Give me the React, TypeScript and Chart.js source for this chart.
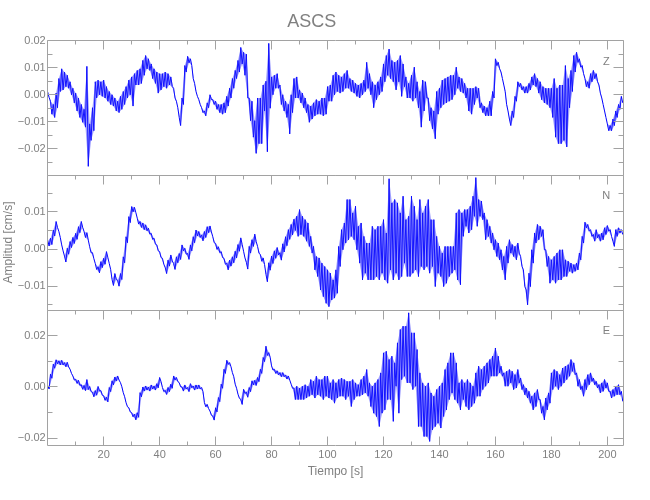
import React, { useEffect, useRef } from 'react';
import { Chart, registerables } from 'chart.js';

Chart.register(...registerables);

// ---------- text ----------
const TITLE = 'ASCS';
const X_TITLE = 'Tiempo [s]';
const Y_TITLE = 'Amplitud [cm/s]';
const COMPONENTS = ['Z', 'N', 'E'];

// ---------- time axis ----------
const T_START = 0;
const T_STEP = 1; // one sample pair (upper / lower) per second
const X_MIN = 0;
const X_MAX = 205.7;
const X_TICKS = [10, 20, 30, 40, 50, 60, 70, 80, 90, 100, 110, 120, 130, 140, 150, 160, 170, 180, 190, 200];
const X_LABELS = [20, 40, 60, 80, 100, 120, 140, 160, 180, 200];

// ---------- amplitude axes (cm/s) ----------
const Z_RANGE = [-0.0297, 0.02];
const N_RANGE = [-0.0164, 0.0199];
const E_RANGE = [-0.0226, 0.03];
const Z_TICKS = [-0.025, -0.02, -0.015, -0.01, -0.005, 0, 0.005, 0.01, 0.015, 0.02];
const Z_LABELS = [-0.02, -0.01, 0, 0.01, 0.02];
const N_TICKS = [-0.015, -0.01, -0.005, 0, 0.005, 0.01, 0.015];
const N_LABELS = [-0.01, 0, 0.01];
const E_TICKS = [-0.02, -0.01, 0, 0.01, 0.02];
const E_LABELS = [-0.02, 0, 0.02];

// ---------- traces: upper and lower envelope per second, in 0.001 cm/s ----------
const UNIT = 0.001;

const Z_HI = [
  1, -2.4, -3.6, 0.6, 6, 9.6, 8.4, 7.2, 4.8, 2.4,
  0.6, -1.2, -3.6, -5.4, 10.5, -10.8, -4.8, 4.8, 5.4, 4.8,
  5.4, 3, 1.2, 0, -1.2, -2.4, -0.6, 1.2, 3, 5.4,
  6.6, 7.8, 9, 9.6, 12.7, 14.5, 13.3, 11.4, 9.6, 8.4,
  7.8, 7.8, 8.4, 7.8, 6.6, 2.4, -2.4, -8.4, -1.2, 10.8,
  14.2, 13.3, 6, 1.2, -1.8, -4.8, -6, -3, 0, -1.8,
  -2.4, -3.6, -3.6, -3, -0.6, 2.4, 6, 9, 12.7, 17.5,
  15.7, 15, -1.2, -2.4, -9.6, -1.2, -1.2, 3.6, 5, 19,
  6.6, 7.2, 7.8, 3.6, 0, -2.4, -3.6, 0, 6, 6.6,
  1.8, 0.6, -1.2, -3.6, -4.2, -3, -1.8, -2.4, -1.2, -1.2,
  3, 3.6, 7.2, 8.4, 7.2, 6.6, 7.8, 9, 6, 5.4,
  4.2, 3.6, 4.2, 5.4, 12, 7.8, 4.8, 3.6, 4.8, 6.6,
  11.4, 14.5, 16.9, 12.7, 12, 12.7, 14.5, 11.4, 6.6, 4.2,
  7.2, 10.2, 4.8, 1.2, 5.4, 4.8, -1.2, -4.8, -6, 1.2,
  2.4, 5.4, 6, 6.6, 7.2, 7.2, 10.2, 6.6, 6, 4.2,
  2.4, 2.4, 2.4, 3, 2.4, -3, -4.2, -4.8, -2.4, 1.2,
  13.3, 12, 8.4, 3.6, -3.6, -9, -6, -0.6, 4.8, 4.2,
  3, 3, 4.2, 6.6, 7.8, 6, 4.8, 3, 2.4, 2.4,
  2.4, 6, 2.4, 3.6, 3.6, 10.8, 6, 9, 14.5, 15.7,
  13.3, 10.8, 6, 4.8, 7.8, 9, 7.8, 3.6, -1.2, -6,
  -10.8, -11.4, -9, -6, -3.6, -0.6,
];
const Z_LO = [
  -1, -7.2, -8.4, -4.8, 1.2, 1.8, 3, 2.4, 0, -3,
  -6, -8.4, -10.2, -12, -26.5, -16.9, -13.3, -1.2, 0, -0.6,
  -1.2, -2.4, -3.6, -4.2, -6, -6.6, -5.4, -3.6, -1.2, 0,
  -4.2, 3.6, 3.6, 4.2, 7.2, 9.6, 9, 6, 4.2, 0.6,
  1.8, 3, 2.4, 3.6, 3, -1.2, -4.8, -11.4, -3.6, 8.4,
  11.8, 10.8, 4.2, -0.6, -3.6, -6.6, -7.8, -4.8, -1.8, -3.6,
  -5.4, -6.6, -7.2, -6.6, -4.2, -1.2, 2.4, 6, 8.4, 11.4,
  7.2, -1.2, -9.6, -15.7, -21.7, -18.1, -18.1, -6, -21.1, -5,
  0, 2.4, 2.4, -3.6, -6, -8.4, -14.5, -6.6, -1.2, -1.2,
  -3, -4.8, -6.6, -10.2, -9, -7.8, -7.2, -7.2, -7.8, -7.2,
  -2.4, -2.4, 0, 1.2, 0.6, 1.2, 2.4, 2.4, 1.2, 0.6,
  -0.6, -1.2, 0, 1.2, 2.4, 0, -4.8, -1.8, 0, 1.2,
  4.8, 7.2, 6, 4.8, 1.8, 4.8, -0.6, 3, -1.2, -1.2,
  -2.4, -1.2, -4.8, -12, -6, -1.2, -9.6, -12.6, -16.3, -7.2,
  -4.8, -3.6, -3, -2.4, -1.8, 0, 2.4, 1.2, 0.6, -1.2,
  -6, -7.2, -3.6, -1.2, -4.8, -6.6, -7.8, -7.8, -7.8, -1.2,
  10.8, 9.6, 6, 1.2, -6, -11.4, -8.4, -2.4, 3, 1.8,
  0.6, 0.6, 1.8, 3.6, 3, 0.6, -1.8, -3, -3.6, -4.8,
  -8.4, -15.7, -18.1, -18.1, -16.9, -19.3, -4.8, 1.2, 8.4, 12,
  10.2, 7.8, 3, 2.4, 4.8, 6, 4.8, 0.6, -3.6, -8.4,
  -13.3, -13.3, -11.4, -8.4, -5.4, -3,
];

const N_HI = [
  2.4, 2.9, 5.1, 7.4, 4.7, 1.1, -1.9, 0.2, 2.0, 3.1,
  4.2, 6.0, 7.4, 4.7, 4.4, 0.6, -1.0, -3.9, -4.8, -3.4,
  -2.5, -0.7, -3.9, -8.2, -6.6, -8.4, -6.6, -2.1, 3.3, 8.7,
  11.4, 11.2, 8.3, 7.4, 7.0, 6.5, 5.6, 4.2, 2.9, 1.1,
  -0.7, -2.5, -5.0, -3.0, -1.6, -3.9, -2.1, -1.2, 1.1, 0.2,
  -1.2, 1.1, 3.3, 5.1, 4.7, 3.8, 4.7, 6.0, 6.2, 3.3,
  1.5, 0.6, -0.7, -2.5, -3.8, -3.0, -2.1, -0.6, 1.2, 3.0,
  -0.6, -3.6, 0.7, 2.5, 4.0, 0.7, -1.5, -2.4, -6.8, -3.7,
  -1.9, -0.5, 0.4, -1.0, 1.4, 3.3, 5.2, 6.6, 8.0, 8.8,
  10.6, 8.8, 7.9, 7.0, 3.4, 0.7, -2.0, -2.4, -3.8, -4.7,
  -5.6, -6.5, -8.3, -5.6, 0.7, 5.2, 7.0, 13.3, 13.3, 9.7,
  11.5, 6.1, 7.0, 3.4, 1.6, 1.6, 6.1, 5.2, 6.1, 6.1,
  7.9, 4.3, 18.9, 12.4, 13.3, 12.4, 9.7, 14.2, 7.9, 8.8,
  14.2, 11.5, 7.9, 13.3, 9.7, 11.5, 13.3, 7.9, 7.9, 3.4,
  0.7, -1.1, 0.7, 0.7, 0.7, 0.7, 9.7, 10.6, 9.7, 10.6,
  10.6, 11.5, 14.2, 19.2, 13.3, 12.9, 9.7, 7.9, 6.1, 4.3,
  2.5, 1.6, -0.2, -2.0, 0.7, 2.5, 1.2, 0.7, 1.6, -2.0,
  -5.6, -11.0, -6.5, -0.2, 4.3, 6.6, 6.1, 5.2, -0.2, -2.0,
  -2.9, -2.0, -1.1, -0.2, -0.2, -2.9, -3.3, -3.8, -4.2, -3.8,
  -1.1, 3.4, 7.2, 6.6, 5.2, 3.9, 5.2, 3.9, 4.3, 5.7,
  6.3, 5.2, 2.1, 5.2, 5.7, 5.2,
];
const N_LO = [
  0.8, 1.2, 3.5, 5.8, 3.1, -0.5, -3.5, -1.4, 0.4, 1.5,
  2.6, 4.4, 5.8, 3.1, 2.4, -1.0, -2.6, -5.5, -6.4, -5.0,
  -4.1, -2.3, -5.5, -9.8, -8.2, -10.0, -8.2, -3.7, 1.7, 7.1,
  10.0, 9.8, 6.7, 5.8, 5.2, 4.9, 4.0, 2.6, 1.3, -0.5,
  -2.3, -4.1, -6.6, -4.6, -3.2, -5.5, -3.7, -2.8, -0.5, -1.4,
  -2.8, -0.5, 1.7, 3.5, 3.1, 2.2, 3.1, 4.4, 4.6, 1.7,
  -0.1, -1.0, -2.3, -4.1, -5.6, -4.6, -3.7, -2.4, -0.6, 1.2,
  -2.4, -5.4, -1.1, 0.7, 2.0, -1.1, -3.3, -4.2, -8.8, -5.7,
  -3.9, -2.5, -1.6, -3.0, -0.8, 0.9, 2.6, 3.8, 5.0, 3.4,
  3.9, 3.4, 2.1, 0.7, -1.1, -5.6, -7.4, -11.0, -12.8, -14.6,
  -15.5, -13.7, -13.2, -11.9, -4.7, -0.2, 1.6, 2.5, 3.4, 2.5,
  -0.2, -3.8, -8.3, -6.5, -8.3, -8.3, -8.3, -7.4, -8.3, -6.5,
  -8.3, -9.2, -5.6, -8.3, -6.5, -8.3, -7.4, -3.8, -7.4, -7.4,
  -6.5, -5.6, -7.4, -4.7, -5.6, -4.7, -6.5, -4.7, -10.1, -6.5,
  -7.4, -10.1, -9.2, -7.4, -6.5, -5.6, -8.3, -9.6, 3.4, 6.1,
  4.3, 5.2, 8.8, 6.1, 8.8, 7.9, 2.5, 3.4, 1.6, -0.2,
  -2.0, -2.9, -5.6, -8.3, -3.8, -1.1, -2.0, -2.9, -1.1, -4.7,
  -10.1, -15.0, -10.1, -3.8, 1.6, 2.5, 3.4, -0.2, -4.7, -9.2,
  -8.3, -9.2, -8.3, -8.3, -7.4, -7.4, -6.0, -6.5, -6.0, -5.6,
  -2.9, 1.6, 5.7, 4.8, 3.4, 2.1, 3.0, 2.1, 2.5, 3.9,
  4.8, 3.4, 0.7, 3.4, 4.3, 3.9,
];

const E_HI = [
  0.6, 5.0, 8.9, 10.6, 10.2, 10.4, 9.5, 9.6, 6.9, 4.3,
  3.0, 2.6, 0.9, 0.6, 2.9, 0.2, -2.0, -1.4, 0.2, -1.4,
  -3.4, -4.0, -0.2, 2.4, 3.9, 4.3, 1.7, -2.2, -6.1, -8.1,
  -10.0, -10.6, -10.0, -2.2, 0.0, 0.4, 0.0, 0.8, 0.4, 1.3,
  3.7, -0.2, -1.3, -0.2, 1.1, 4.3, 3.7, 1.7, 0.0, 0.8,
  -0.2, 1.3, 0.4, 0.8, 0.8, -0.2, -6.1, -6.8, -9.4, -11.3,
  -8.1, -4.1, 1.1, 6.9, 10.4, 9.5, 5.6, 1.1, -2.8, -4.8,
  -0.9, -2.0, -0.2, 2.4, 2.6, 3.7, 6.9, 11.5, 15.9, 13.4,
  8.2, 6.9, 6.3, 5.6, 5.6, 4.7, 4.3, 1.1, -0.4, 0.3,
  -0.4, 0.3, 0.9, 0.3, 2.9, 2.2, 4.2, 2.9, 2.9, 4.2,
  4.2, 1.6, 2.9, 1.6, 2.9, 3.5, 2.9, 2.2, 2.2, 2.9,
  1.6, 0.9, 2.9, 4.2, 6.8, 1.6, 0.3, 1.6, 2.9, 5.5,
  13.3, 13.9, 10.7, 12.0, 9.4, 17.2, 22.4, 23.7, 23.7, 28.9,
  21.1, 21.1, 14.6, 5.5, 1.6, 0.3, 1.6, -2.3, -3.6, -1.0,
  0.3, 1.6, 6.8, 9.4, 13.3, 13.3, 9.4, 1.6, 2.9, 1.6,
  2.9, 1.6, 0.3, 5.5, 8.1, 6.8, 8.1, 9.4, 10.7, 12.0,
  15.2, 12.0, 8.1, 5.5, 6.1, 6.8, 6.1, 4.8, 6.8, 3.5,
  0.9, -0.4, -1.7, -3.6, -2.3, -1.0, -4.9, -7.6, -4.3, -2.3,
  5.5, 6.8, 6.1, 4.8, 7.4, 8.1, 8.7, 10.7, 9.4, 5.5,
  2.9, 0.3, 2.9, 4.8, 5.5, 3.5, 2.2, 0.9, 1.6, 2.9,
  1.6, -1.7, -1.0, 0.3, 0.9, -1.7,
];
const E_LO = [
  -0.8, 3.4, 7.3, 9.0, 8.6, 8.6, 7.9, 7.8, 5.3, 2.7,
  1.4, 0.6, -0.9, -1.4, -1.0, -1.8, -3.8, -3.2, -1.6, -3.2,
  -5.2, -5.8, -1.8, 0.8, 2.3, 2.7, 0.1, -3.8, -7.7, -9.7,
  -11.6, -12.8, -11.8, -3.8, -1.6, -1.2, -1.6, -0.8, -1.2, -0.3,
  2.1, -1.8, -2.9, -1.8, -0.5, 2.7, 2.1, 0.1, -1.6, -0.8,
  -1.8, -0.3, -1.2, -0.8, -0.8, -1.8, -7.7, -8.4, -11.0, -12.9,
  -9.7, -5.7, -0.5, 5.3, 8.8, 7.9, 4.0, -0.5, -4.4, -6.8,
  -2.5, -4.0, -1.8, 0.8, 0.6, 2.1, 5.3, 9.9, 12.3, 11.6,
  6.6, 5.3, 4.7, 4.0, 4.0, 3.1, 2.7, -0.5, -4.9, -4.9,
  -4.9, -4.9, -4.3, -3.6, -3.0, -4.3, -3.0, -3.6, -4.9, -3.6,
  -4.3, -4.9, -6.3, -4.3, -3.6, -3.6, -4.9, -3.6, -7.6, -4.9,
  -3.6, -3.6, -3.0, -2.3, -3.6, -7.6, -10.2, -11.5, -15.4, -10.2,
  -8.9, -4.9, -4.9, -13.4, 0.3, -10.2, 2.9, 4.2, 1.6, 1.6,
  -1.0, 0.3, -15.4, -15.4, -19.3, -19.3, -21.2, -16.7, -15.4, -14.1,
  -16.0, -11.5, -8.9, -4.9, -2.3, -4.9, -6.3, -8.9, -4.9, -7.6,
  -8.9, -7.6, -6.3, -3.6, -3.6, -1.0, 0.3, 1.6, 4.2, 4.2,
  4.2, 5.5, 4.2, 0.3, 0.3, 1.6, -1.0, -0.4, 1.6, -1.0,
  -3.0, -4.3, -6.3, -8.9, -7.6, -4.9, -10.2, -12.8, -8.9, -6.3,
  -1.0, 0.3, -1.0, 0.3, 1.6, 2.9, 4.2, 6.1, 4.8, 0.3,
  -1.0, -3.6, -1.0, 0.9, 2.2, 0.9, -0.4, -2.3, -1.7, -0.4,
  -1.7, -4.3, -3.6, -3.0, -3.0, -5.6,
];

// ---------- styles / layout ----------
const TRACE = '#0000ff';
const BAND = 'rgba(40, 40, 255, 0.45)';
const AXIS = '#a2a2a2';
const TEXT = '#808080';
const FONT = '"Liberation Sans", Arial, sans-serif';
const TITLE_FONT = '"Liberation Sans Narrow", "Liberation Sans", sans-serif';
const W = 650;
const H = 500;
const PLOT_LEFT = 47.7;
const PAD_RIGHT = 26.7;
const PANEL_EDGES = [40.7, 175, 310, 445];

type Panel = {
  name: string;
  hi: number[];
  lo: number[];
  range: number[];
  ticks: number[];
  labels: number[];
};

const PANELS: Panel[] = [
  { name: COMPONENTS[0], hi: Z_HI, lo: Z_LO, range: Z_RANGE, ticks: Z_TICKS, labels: Z_LABELS },
  { name: COMPONENTS[1], hi: N_HI, lo: N_LO, range: N_RANGE, ticks: N_TICKS, labels: N_LABELS },
  { name: COMPONENTS[2], hi: E_HI, lo: E_LO, range: E_RANGE, ticks: E_TICKS, labels: E_LABELS },
];

// trace: alternate between the upper and lower envelope value of each second
function buildTrace(hi: number[], lo: number[]) {
  const pts: { x: number; y: number }[] = [];
  hi.forEach((h, i) => {
    const t = T_START + i * T_STEP;
    pts.push({ x: t, y: h * UNIT });
    pts.push({ x: t + T_STEP / 2, y: lo[i] * UNIT });
  });
  return pts;
}

function buildEdge(values: number[], shift: number) {
  return values.map((v, i) => ({ x: T_START + i * T_STEP + shift, y: v * UNIT }));
}

const near = (a: number, b: number) => Math.abs(a - b) < 1e-9;
const fmt = (v: number) => (v < -1e-12 ? '\u2212' : '') + Math.abs(v).toFixed(2);

function makeFramePlugin(panel: Panel, isLast: boolean) {
  return {
    id: 'frame',
    afterDraw(chart: any) {
      const { ctx, chartArea } = chart;
      const xs = chart.scales.x;
      const ys = chart.scales.y;
      const l = Math.floor(chartArea.left) + 0.5;
      const r = Math.floor(chartArea.right) + 0.5;
      const t = Math.floor(chartArea.top) + 0.5;
      const b = Math.floor(chartArea.bottom) + 0.5;
      ctx.save();
      ctx.strokeStyle = AXIS;
      ctx.lineWidth = 1;
      ctx.beginPath();
      ctx.rect(l, t, r - l, b - t);
      X_TICKS.forEach((v) => {
        const px = Math.floor(xs.getPixelForValue(v)) + 0.5;
        const len = X_LABELS.some((m) => near(m, v)) ? 9 : 4;
        ctx.moveTo(px, t);
        ctx.lineTo(px, t + len);
        if (isLast) {
          ctx.moveTo(px, b);
          ctx.lineTo(px, b - len);
        }
      });
      panel.ticks.forEach((v) => {
        const py = Math.floor(ys.getPixelForValue(v)) + 0.5;
        const len = panel.labels.some((m) => near(m, v)) ? 10 : 5;
        ctx.moveTo(l, py);
        ctx.lineTo(l + len, py);
        ctx.moveTo(r, py);
        ctx.lineTo(r - len, py);
      });
      ctx.stroke();
      ctx.fillStyle = TEXT;
      ctx.font = `11px ${FONT}`;
      ctx.textAlign = 'center';
      ctx.textBaseline = 'middle';
      ctx.fillText(panel.name, chartArea.right - 17, chartArea.top + 21);
      ctx.restore();
    },
  };
}

function makeConfig(panel: Panel, index: number): any {
  const isFirst = index === 0;
  const isLast = index === PANELS.length - 1;
  const top = isFirst ? 0 : PANEL_EDGES[index];
  const bottom = isLast ? 0 : H - PANEL_EDGES[index + 1];

  const xScale: any = isLast
    ? {
        type: 'linear',
        min: X_MIN,
        max: X_MAX,
        position: 'bottom',
        afterBuildTicks: (s: any) => {
          s.ticks = X_LABELS.map((v) => ({ value: v }));
        },
        afterFit: (s: any) => {
          s.height = H - PANEL_EDGES[3];
        },
        grid: { display: false, drawTicks: false },
        border: { display: false },
        ticks: {
          color: TEXT,
          font: { family: FONT, size: 11 },
          padding: 3,
          maxRotation: 0,
          autoSkip: false,
          callback: (v: number) => String(v),
        },
        title: {
          display: true,
          text: X_TITLE,
          color: TEXT,
          font: { family: FONT, size: 12 },
          padding: { top: 0, bottom: 20.8 },
        },
      }
    : { type: 'linear', min: X_MIN, max: X_MAX, display: false };

  const yScale: any = {
    type: 'linear',
    min: panel.range[0],
    max: panel.range[1],
    position: 'left',
    afterBuildTicks: (s: any) => {
      s.ticks = panel.labels.map((v) => ({ value: v }));
    },
    afterFit: (s: any) => {
      s.width = PLOT_LEFT;
    },
    grid: { display: false, drawTicks: false },
    border: { display: false },
    ticks: {
      color: TEXT,
      font: { family: FONT, size: 11 },
      padding: 2,
      autoSkip: false,
      callback: (v: number) => fmt(v),
    },
    title:
      index === 1
        ? {
            display: true,
            text: Y_TITLE,
            color: TEXT,
            font: { family: FONT, size: 12 },
            padding: { top: 1, bottom: 0 },
          }
        : { display: false },
  };

  return {
    type: 'line',
    data: {
      datasets: [
        {
          label: panel.name + ' upper',
          data: buildEdge(panel.hi, 0),
          borderWidth: 0,
          borderColor: 'rgba(0,0,0,0)',
          backgroundColor: BAND,
          pointRadius: 0,
          fill: '+1',
          tension: 0,
        },
        {
          label: panel.name + ' lower',
          data: buildEdge(panel.lo, T_STEP / 2),
          borderWidth: 0,
          borderColor: 'rgba(0,0,0,0)',
          pointRadius: 0,
          fill: false,
          tension: 0,
        },
        {
          label: panel.name,
          data: buildTrace(panel.hi, panel.lo),
          borderColor: TRACE,
          borderWidth: 1,
          pointRadius: 0,
          fill: false,
          tension: 0,
        },
      ],
    },
    options: {
      responsive: false,
      animation: false,
      parsing: false,
      layout: { padding: { top, bottom, left: 0, right: PAD_RIGHT } },
      scales: { x: xScale, y: yScale },
      plugins: {
        legend: { display: false },
        tooltip: { enabled: false },
        title: isFirst
          ? {
              display: true,
              text: TITLE,
              color: TEXT,
              font: { family: TITLE_FONT, size: 18, weight: 'normal' },
              padding: { top: 11.5, bottom: 7.6 },
            }
          : { display: false },
      },
    },
    plugins: [makeFramePlugin(panel, isLast)],
  };
}

export default function App() {
  const refs = [useRef<HTMLCanvasElement>(null), useRef<HTMLCanvasElement>(null), useRef<HTMLCanvasElement>(null)];

  useEffect(() => {
    const charts = PANELS.map((p, i) => new Chart(refs[i].current as HTMLCanvasElement, makeConfig(p, i)));
    return () => charts.forEach((c) => c.destroy());
  }, []);

  return (
    <div style={{ position: 'absolute', left: 0, top: 0, width: W, height: H, background: '#ffffff' }}>
      {PANELS.map((p, i) => (
        <canvas
          key={p.name}
          ref={refs[i]}
          width={W}
          height={H}
          style={{ position: 'absolute', left: 0, top: 0, width: W, height: H }}
        />
      ))}
    </div>
  );
}
